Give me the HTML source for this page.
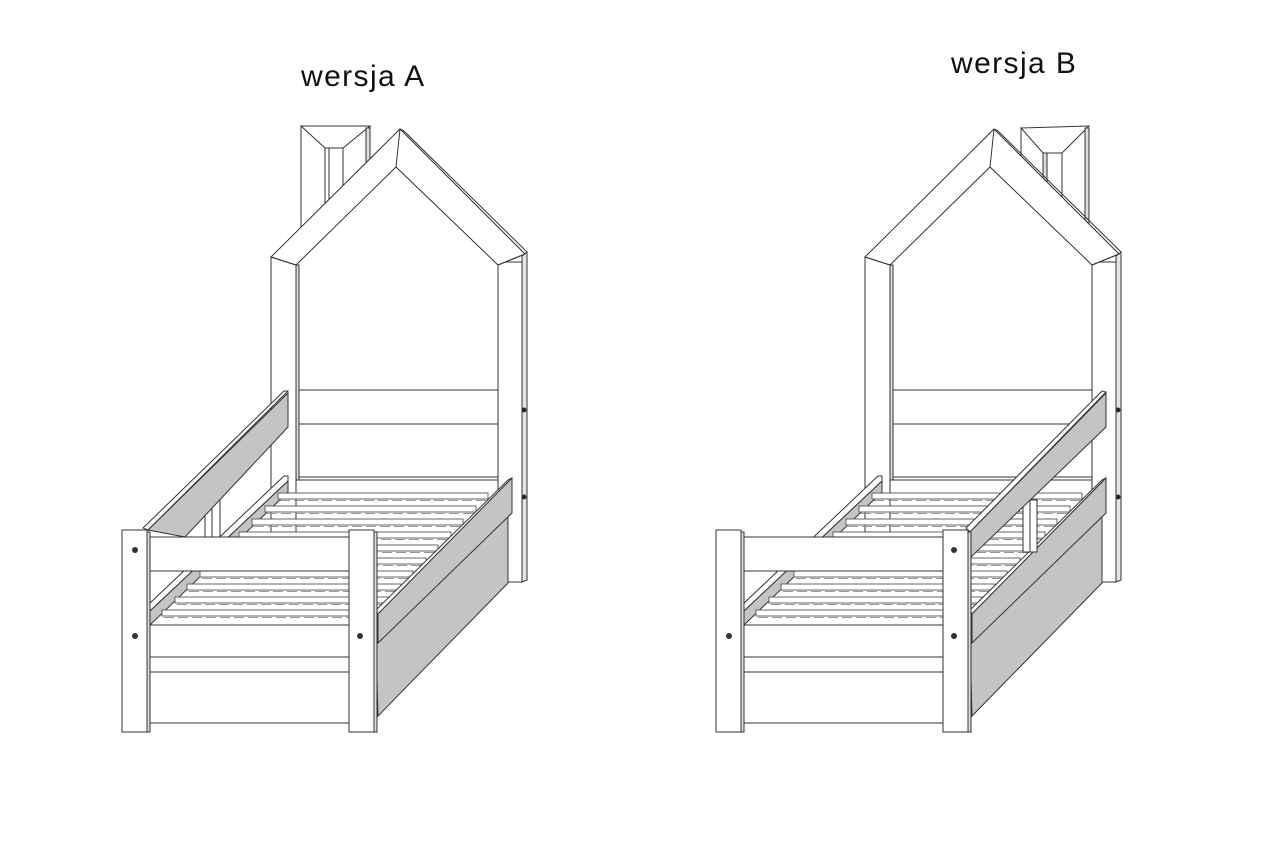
<!DOCTYPE html>
<html><head><meta charset="utf-8"><style>
html,body{margin:0;padding:0;background:#fff;}
svg{display:block;}
text{font-family:"Liberation Sans",sans-serif;fill:#111;letter-spacing:1.4px;}
</style></head><body>
<svg width="1276" height="842" viewBox="0 0 1276 842" xmlns="http://www.w3.org/2000/svg">
<defs>
<g id="slats" fill="#fff" stroke="#555" stroke-width="0.9">
<rect x="278" y="493" width="210" height="6"/><rect x="265" y="506" width="211" height="6"/>
<rect x="252" y="519" width="211" height="6"/><rect x="239" y="532" width="212" height="6"/>
<rect x="226" y="545" width="212" height="6"/><rect x="213" y="558" width="213" height="6"/>
<rect x="200" y="571" width="213" height="6"/><rect x="187" y="584" width="214" height="6"/>
<rect x="175" y="597" width="213" height="6"/><rect x="162" y="610" width="214" height="6"/>
<g stroke="#999" stroke-dasharray="10 4">
<line x1="280" y1="500.5" x2="486" y2="500.5"/><line x1="267" y1="513.5" x2="474" y2="513.5"/>
<line x1="254" y1="526.5" x2="461" y2="526.5"/><line x1="241" y1="539.5" x2="449" y2="539.5"/>
<line x1="228" y1="552.5" x2="436" y2="552.5"/><line x1="215" y1="565.5" x2="424" y2="565.5"/>
<line x1="202" y1="578.5" x2="411" y2="578.5"/><line x1="189" y1="591.5" x2="399" y2="591.5"/>
<line x1="177" y1="604.5" x2="386" y2="604.5"/><line x1="164" y1="617.5" x2="374" y2="617.5"/>
</g>
</g>
<g id="house" stroke="#333" stroke-width="1" fill="#fff">
<polygon points="296,265 396,167 498,265 498,482 296,482" stroke="none"/>
<rect x="271" y="257" width="25" height="275"/>
<rect x="296" y="265" width="3" height="215" fill="#ddd"/>
<rect x="498" y="262" width="24" height="320"/>
<polygon points="522,256 527,252 527,580 522,582" fill="#e6e6e6"/>
<polygon points="271,257 400,129 525,254 498,265 396,167 296,265" />
<line x1="400" y1="129" x2="396" y2="167"/>
<line x1="271" y1="257" x2="296" y2="265"/>
<line x1="525" y1="254" x2="498" y2="265"/>
<line x1="404" y1="131" x2="527" y2="252"/>
<line x1="400" y1="129" x2="404" y2="131"/>
<rect x="299" y="390" width="199" height="34"/>
<line x1="299" y1="477" x2="498" y2="477"/>
<line x1="299" y1="480" x2="498" y2="480"/>
<circle cx="524" cy="410" r="2" fill="#222"/>
<circle cx="524" cy="497" r="2" fill="#222"/>
</g>
<g id="leftlow" stroke="#333" stroke-width="1">
<polygon points="148,605 284,476 288,476 288,481 150,611" fill="#fff"/>
<polygon points="150,611 288,481 288,492 150,625" fill="#c4c4c4"/>
</g>
<g id="rightside" stroke="#333" stroke-width="1">
<polygon points="376,642 508,515 508,583 378,716" fill="#c4c4c4"/>
<polygon points="376,610 508,480 512,478 378,614" fill="#fff"/>
<polygon points="378,614 512,478 512,513 378,643" fill="#c4c4c4"/>
</g>
<g id="front" stroke="#333" stroke-width="1" fill="#fff">
<rect x="147" y="537" width="202" height="34"/>
<rect x="147" y="625" width="202" height="32"/>
<line x1="147" y1="672" x2="349" y2="672"/>
<rect x="147" y="657" width="202" height="66" fill="none"/>
<rect x="122" y="530" width="25" height="202"/>
<rect x="147" y="532" width="3" height="200" fill="#ddd"/>
<rect x="349" y="530" width="25" height="202"/>
<rect x="374" y="532" width="3" height="200" fill="#ddd"/>
</g>
</defs>

<text x="301" y="86" font-size="30">wersja A</text>
<text x="951" y="73" font-size="30">wersja B</text>

<g stroke="#333" stroke-width="1" fill="#fff">
<rect x="301" y="126" width="69" height="110"/>
<polygon points="301,126 370,126 343,148 325,148"/>
<rect x="325" y="148" width="18" height="80"/>
<line x1="329" y1="148" x2="329" y2="225"/>
<rect x="366" y="128" width="4" height="40" fill="#ddd"/>
</g>
<use href="#house"/>
<g stroke="#333" stroke-width="1">
<rect x="205" y="495" width="15" height="42" fill="#fff"/>
<line x1="212" y1="495" x2="212" y2="537"/>
<polygon points="143,528 284,391 288,391 148,530" fill="#fff"/>
<polygon points="148,530 288,393 288,427 185,537" fill="#c4c4c4"/>
</g>
<use href="#leftlow"/>
<use href="#slats"/>
<use href="#rightside"/>
<use href="#front"/>
<g fill="#333"><circle cx="135" cy="550" r="3"/><circle cx="135" cy="636" r="3"/><circle cx="360" cy="636" r="3"/></g>

<g transform="translate(594,0)">
<g stroke="#333" stroke-width="1" fill="#fff">
<rect x="427" y="128" width="68" height="100"/>
<polygon points="427,128 495,126 468,153 449,153"/>
<rect x="449" y="153" width="19" height="50"/>
<rect x="449" y="153" width="4" height="32" fill="#ddd"/>
<rect x="491" y="128" width="4" height="99" fill="#ddd"/>
</g>
<use href="#house"/>
<use href="#leftlow"/>
<use href="#slats"/>
<use href="#rightside"/>
<g stroke="#333" stroke-width="1">
<rect x="429" y="500" width="14" height="52" fill="#fff"/>
<line x1="436" y1="500" x2="436" y2="552"/>
<polygon points="372,528 508,391 512,392 376,532" fill="#fff"/>
<polygon points="376,532 512,393 512,427 376,558" fill="#c4c4c4"/>
</g>
<use href="#front"/>
<g fill="#333"><circle cx="135" cy="636" r="3"/><circle cx="360" cy="550" r="3"/><circle cx="360" cy="636" r="3"/></g>
</g>
</svg>
</body></html>
